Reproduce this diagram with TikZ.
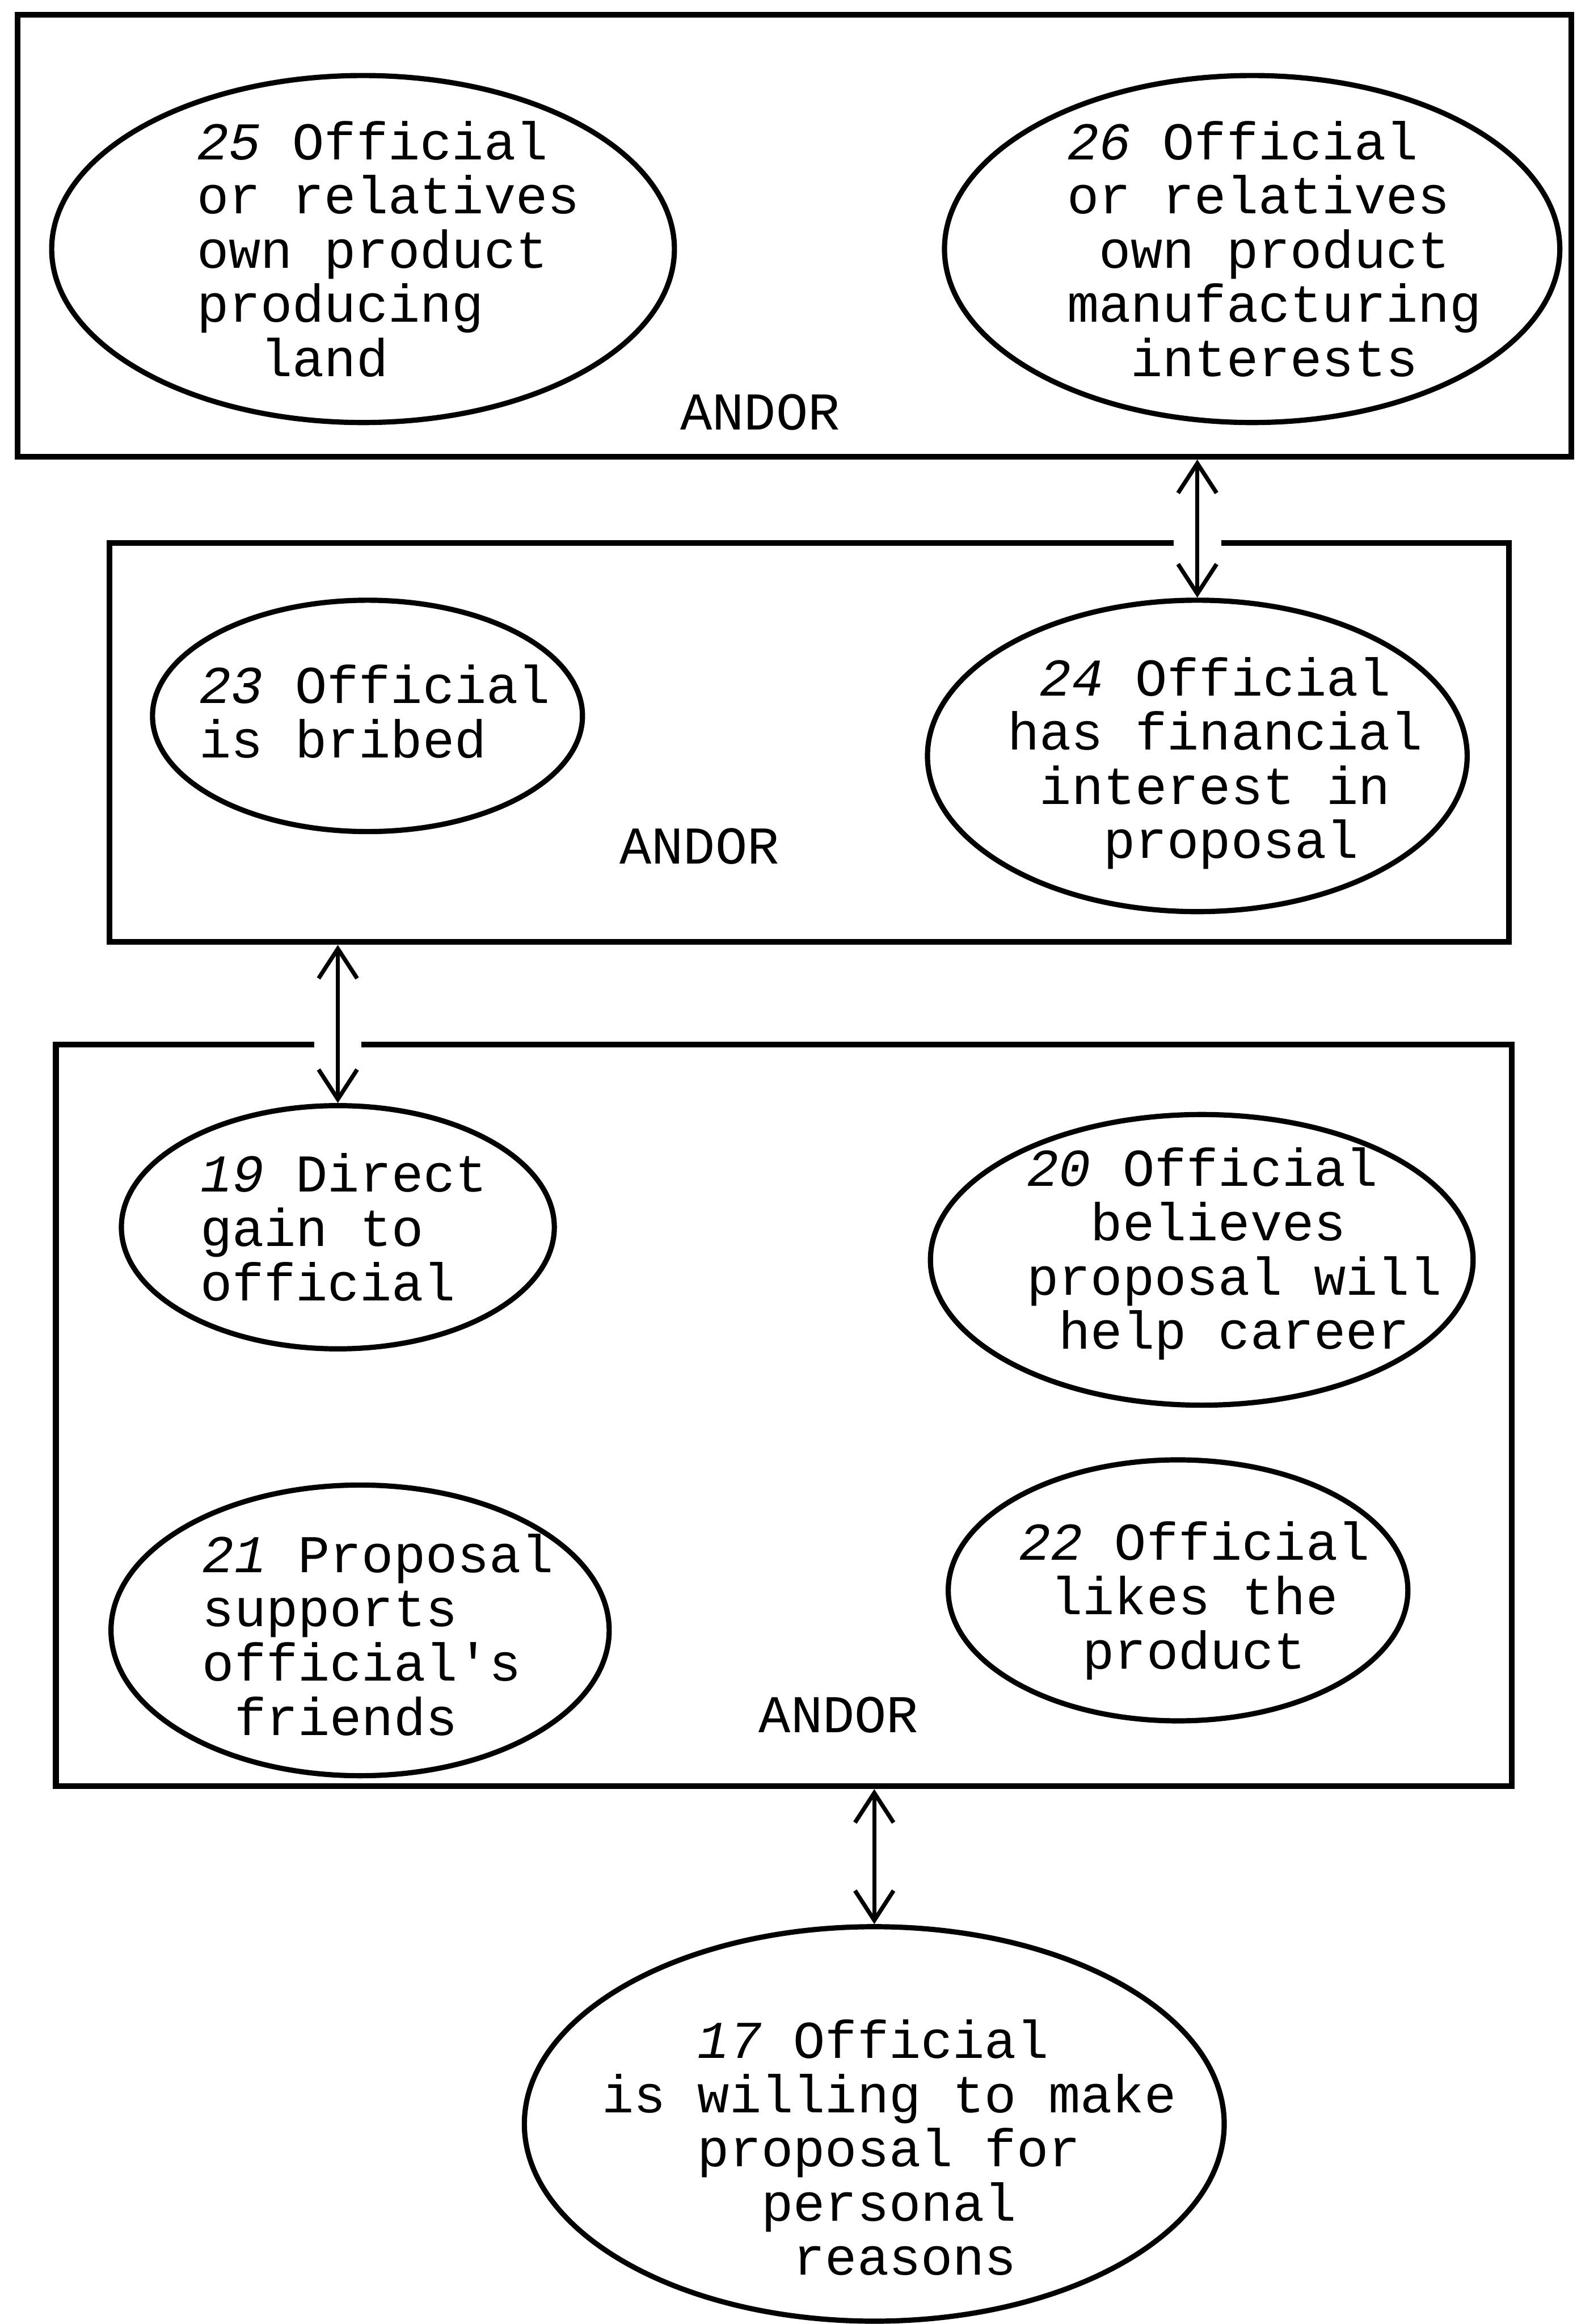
\documentclass[tikz,border=0pt]{standalone}
\usepackage{fontspec}
\usetikzlibrary{shapes.geometric,arrows.meta}
\newfontfamily\machine{Liberation Mono}
\newcommand\numero[1]{\textit{#1}}

\begin{document}
\begin{tikzpicture}[x=0.01cm,y=-0.01cm]
	\tikzstyle{cadre}=[draw,line width=1.1pt,inner sep=0pt]
	\tikzstyle{bulle}=[draw,ellipse,line width=1pt,inner sep=0pt]
	\tikzstyle{texte}=[align=left,inner sep=0pt,font=\machine\fontsize{10.2}{10.4}\selectfont]
	\tikzstyle{mot}=[inner sep=0pt,font=\machine\fontsize{10.2}{10.4}\selectfont]
	\tikzstyle{lien}=[{Straight Barb[length=2mm,width=2.6mm]}-{Straight Barb[length=2mm,width=2.6mm]},line width=0.8pt]
	\tikzstyle{trou}=[draw=white,line width=0.32cm]

	\useasboundingbox (0,0) rectangle (1064,1568);

	% les trois cadres ANDOR
	\node[cadre,minimum width=10.48cm,minimum height=2.98cm] (cadreA) at (536,159) {};
	\node[cadre,minimum width=9.44cm,minimum height=2.69cm] (cadreB) at (546,501) {};
	\node[cadre,minimum width=9.82cm,minimum height=5cm] (cadreC) at (529,955) {};
	\node[mot] (andorA) at (513,278) {ANDOR};
	\node[mot] (andorB) at (472,571) {ANDOR};
	\node[mot] (andorC) at (566,1157) {ANDOR};

	% cadre du haut
	\node[bulle,minimum width=4.2cm,minimum height=2.34cm] (b25) at (245,168) {};
	\node[texte] (t25) at (262,168) {\numero{25} Official\\or relatives\\own product\\producing\\\phantom{xx}land};
	\node[bulle,minimum width=4.15cm,minimum height=2.34cm] (b26) at (845,168) {};
	\node[texte] (t26) at (860,168) {\numero{26} Official\\or relatives\\\phantom{x}own product\\manufacturing\\\phantom{xx}interests};

	% cadre du milieu
	\node[bulle,minimum width=2.9cm,minimum height=1.56cm] (b23) at (248,483) {};
	\node[texte] (t23) at (253,480) {\numero{23} Official\\is bribed};
	\node[bulle,minimum width=3.64cm,minimum height=2.1cm] (b24) at (808,510) {};
	\node[texte] (t24) at (820,515) {\phantom{x}\numero{24} Official\\has financial\\\phantom{x}interest in\\\phantom{xxx}proposal};

	% cadre du bas
	\node[bulle,minimum width=2.92cm,minimum height=1.64cm] (b19) at (228,828) {};
	\node[texte] (t19) at (232,828) {\numero{19} Direct\\gain to\\official};
	\node[bulle,minimum width=3.66cm,minimum height=1.96cm] (b20) at (811,850) {};
	\node[texte] (t20) at (833,846) {\numero{20} Official\\\phantom{xx}believes\\proposal will\\\phantom{x}help career};
	\node[bulle,minimum width=3.36cm,minimum height=1.96cm] (b21) at (243,1100) {};
	\node[texte] (t21) at (255,1103) {\numero{21} Proposal\\supports\\official's\\\phantom{x}friends};
	\node[bulle,minimum width=3.1cm,minimum height=1.76cm] (b22) at (795,1073) {};
	\node[texte] (t22) at (806,1080) {\numero{22} Official\\\phantom{x}likes the\\\phantom{xx}product};

	% but
	\node[bulle,minimum width=4.72cm,minimum height=2.66cm] (b17) at (590,1433) {};
	\node[texte] (t17) at (600,1449) {\phantom{xxx}\numero{17} Official\\is willing to make\\\phantom{xxx}proposal for\\\phantom{xxxxx}personal\\\phantom{xxxxxx}reasons};

	% liens entre niveaux
	\draw[trou] (b24.north |- cadreB.north) ++(0,-8) -- ++(0,16);
	\draw[trou] (b19.north |- cadreC.north) ++(0,-8) -- ++(0,16);
	\draw[lien] (b24.north |- cadreA.south) -- (b24.north);
	\draw[lien] (b19.north |- cadreB.south) -- (b19.north);
	\draw[lien] (b17.north |- cadreC.south) -- (b17.north);
\end{tikzpicture}
\end{document}
